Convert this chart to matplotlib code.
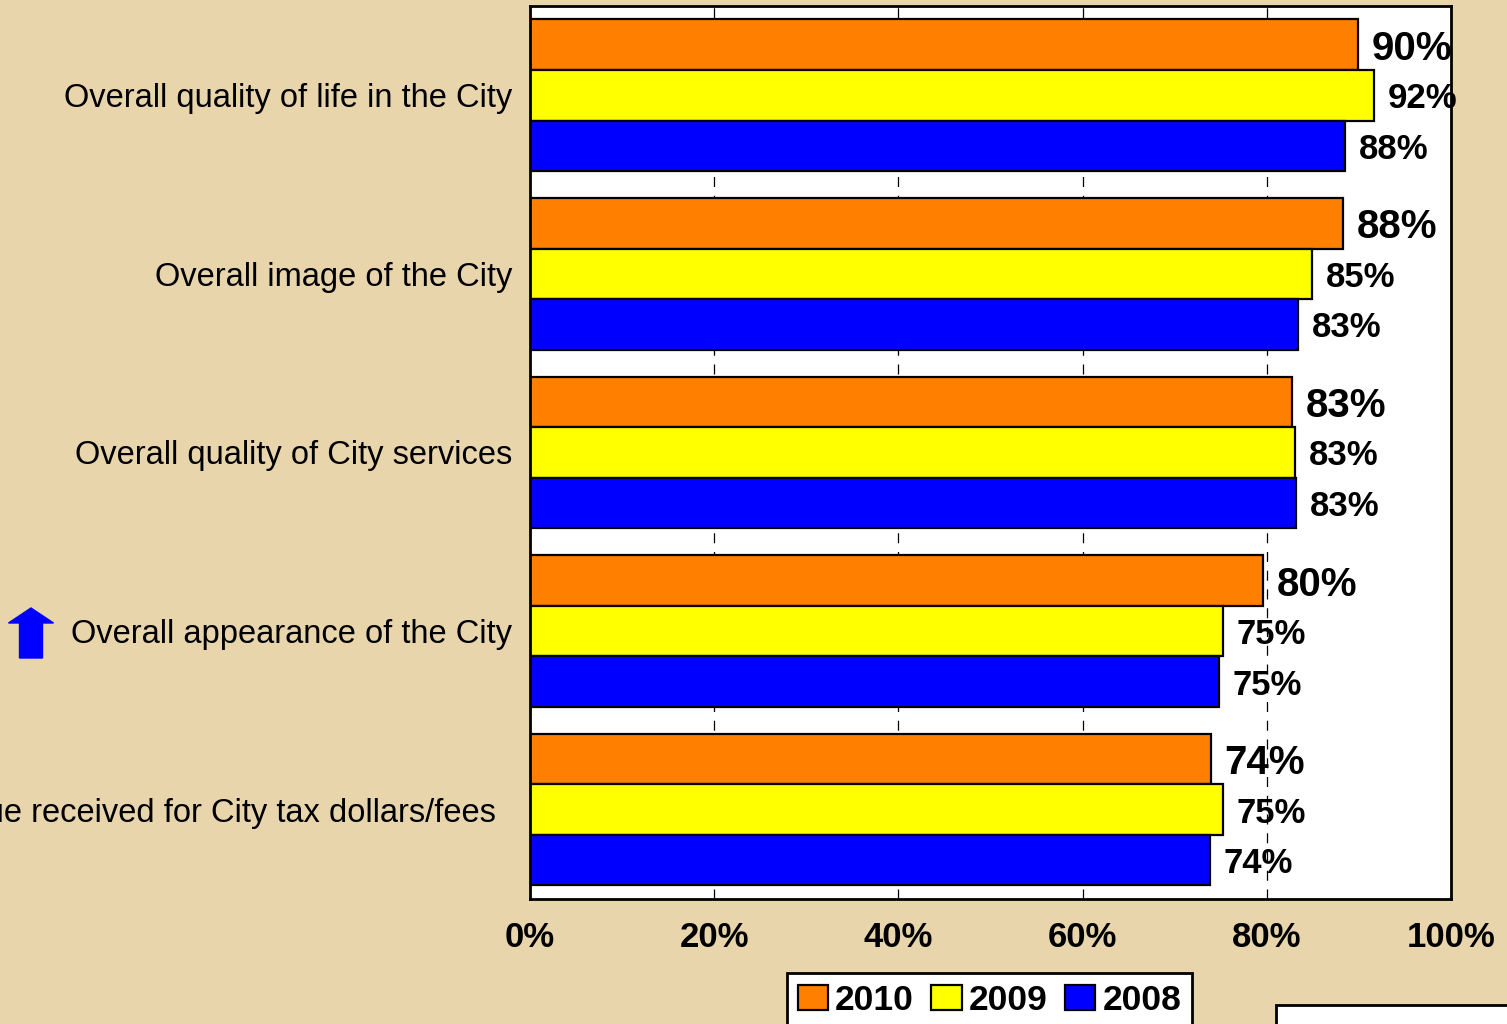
import matplotlib

matplotlib.use("Agg")

import matplotlib.pyplot as plt
import numpy as np
from matplotlib.patches import FancyArrow, Rectangle

categories = [
    "Overall quality of life in the City",
    "Overall image of the City",
    "Overall quality of City services",
    "Overall appearance of the City",
    "Value received for City tax dollars/fees",
]
years = ["2010", "2009", "2008"]
vals_2010 = [89.9, 88.3, 82.7, 79.6, 73.9]
vals_2009 = [91.6, 84.9, 83.1, 75.2, 75.2]
vals_2008 = [88.5, 83.4, 83.2, 74.8, 73.8]
xticks = [0, 20, 40, 60, 80, 100]

colors = ["#FF8000", "#FFFF00", "#0000FF"]
BG = "#E8D5AC"
BOLD_NARROW = ["Liberation Sans Narrow", "Liberation Sans", "DejaVu Sans"]

plt.rcParams["font.family"] = ["Liberation Sans", "DejaVu Sans"]

fig = plt.figure(figsize=(15.07, 10.24), dpi=100, facecolor=BG)
ax = fig.add_axes([0.3517, 0.1221, 0.6111, 0.8721])
ax.set_facecolor("white")

y = np.arange(len(categories))
h = 0.283
series = [vals_2010, vals_2009, vals_2008]
for i, (vals, yr, col) in enumerate(zip(series, years, colors)):
    pos = y + (i - 1) * h
    ax.barh(pos, vals, height=h, color=col, edgecolor="black", linewidth=1.6,
            label=yr, zorder=2)
    big = i == 0
    for p, v in zip(pos, vals):
        ax.text(v + 1.5, p, f"{v:.0f}%", ha="left", va="center_baseline",
                fontsize=29 if big else 25, fontweight="bold", color="black",
                clip_on=False, zorder=0.3)

ax.set_xlim(0, 100)
ax.set_ylim(len(categories) - 0.5, -0.5)
ax.set_xticks(xticks)
ax.set_xticklabels([f"{t}%" for t in xticks], fontsize=25, fontweight="bold",
                   family=BOLD_NARROW)
ax.tick_params(axis="x", length=0, pad=16)
ax.set_yticks([])
ax.xaxis.grid(True, color="black", linestyle=(0, (8, 7)), linewidth=0.9, zorder=0.5)
ax.set_axisbelow(True)
for s in ax.spines.values():
    s.set_linewidth(2)
    s.set_color("black")

# category labels (last one runs off the left edge, as in the source slide)
label_x = [-0.0195, -0.0195, -0.0195, -0.0195, -0.0369]
for yi, name, lx in zip(y, categories, label_x):
    ax.text(lx, yi, name, transform=ax.get_yaxis_transform(), ha="right",
            va="center_baseline", fontsize=23.5, color="black", clip_on=False)

# blue "up" arrow next to appearance item
fig.patches.append(FancyArrow(31 / 1507, 1 - 658 / 1024, 0, 50 / 1024,
                              width=23 / 1507, head_width=45 / 1507,
                              head_length=15 / 1024, length_includes_head=True,
                              color="#0000FF", transform=fig.transFigure))

leg = fig.legend(loc="upper left", bbox_to_anchor=(787 / 1507, 1 - 973 / 1024),
                 ncol=3, frameon=True, fancybox=False, edgecolor="black",
                 prop={"family": BOLD_NARROW, "weight": "bold", "size": 25.5},
                 handlelength=0.85, handleheight=0.7, handletextpad=0.2,
                 columnspacing=0.5, borderpad=0.3, borderaxespad=0)
leg.get_frame().set_linewidth(2)
leg.get_frame().set_facecolor("white")
leg.get_frame().set_alpha(1)

# partial box in the bottom-right corner
fig.patches.append(Rectangle((1276 / 1507, -0.02), 0.2, 0.02 + 19 / 1024,
                             transform=fig.transFigure, facecolor="white",
                             edgecolor="black", linewidth=2))

fig.savefig("out.png", dpi=100, facecolor=BG)
